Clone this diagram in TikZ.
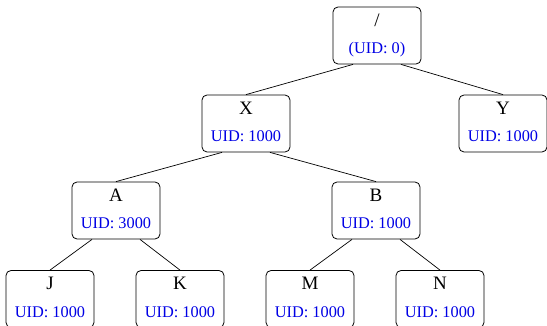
\documentclass[tikz,border=0pt]{standalone}
\usepackage{fontspec}
\setmainfont{Liberation Serif}
\tikzset{
  box/.style={draw, rounded corners=5pt, line width=0.8pt, minimum width=88pt, minimum height=57pt, inner sep=0pt},
  ttl/.style={anchor=base, inner sep=0pt, font=\fontsize{19}{22}\selectfont},
  uid/.style={anchor=base, inner sep=0pt, text=blue!90!black, font=\fontsize{16.3}{19}\selectfont},
  edge/.style={line width=0.7pt}
}
\newcommand{\treebox}[5]{%
  \node[box] (#1) at (#2,#3) {};
  \node[ttl] (#1-t) at ([yshift=9pt]#1.center) {#4};
  \node[uid] (#1-u) at ([yshift=-18.5pt]#1.center) {#5};
}
\begin{document}
\begin{tikzpicture}[x=1pt,y=-1pt]
\useasboundingbox (0,0) rectangle (547,326);
\treebox{r}{377}{35.5}{/}{(UID: 0)}
\treebox{x}{246}{123.5}{X}{UID: 1000}
\treebox{y}{503}{123.5}{Y}{UID: 1000}
\treebox{a}{116}{210.5}{A}{UID: 3000}
\treebox{b}{376}{210.5}{B}{UID: 1000}
\treebox{j}{50}{299}{J}{UID: 1000}
\treebox{k}{180}{299}{K}{UID: 1000}
\treebox{m}{310}{299}{M}{UID: 1000}
\treebox{n}{440}{299}{N}{UID: 1000}
\draw[edge] ([xshift=-24pt]r.south) -- (x.north);
\draw[edge] ([xshift=24pt]r.south) -- (y.north);
\draw[edge] ([xshift=-24pt]x.south) -- (a.north);
\draw[edge] ([xshift=24pt]x.south) -- (b.north);
\draw[edge] ([xshift=-24pt]a.south) -- (j.north);
\draw[edge] ([xshift=24pt]a.south) -- (k.north);
\draw[edge] ([xshift=-24pt]b.south) -- (m.north);
\draw[edge] ([xshift=24pt]b.south) -- (n.north);
\end{tikzpicture}
\end{document}
